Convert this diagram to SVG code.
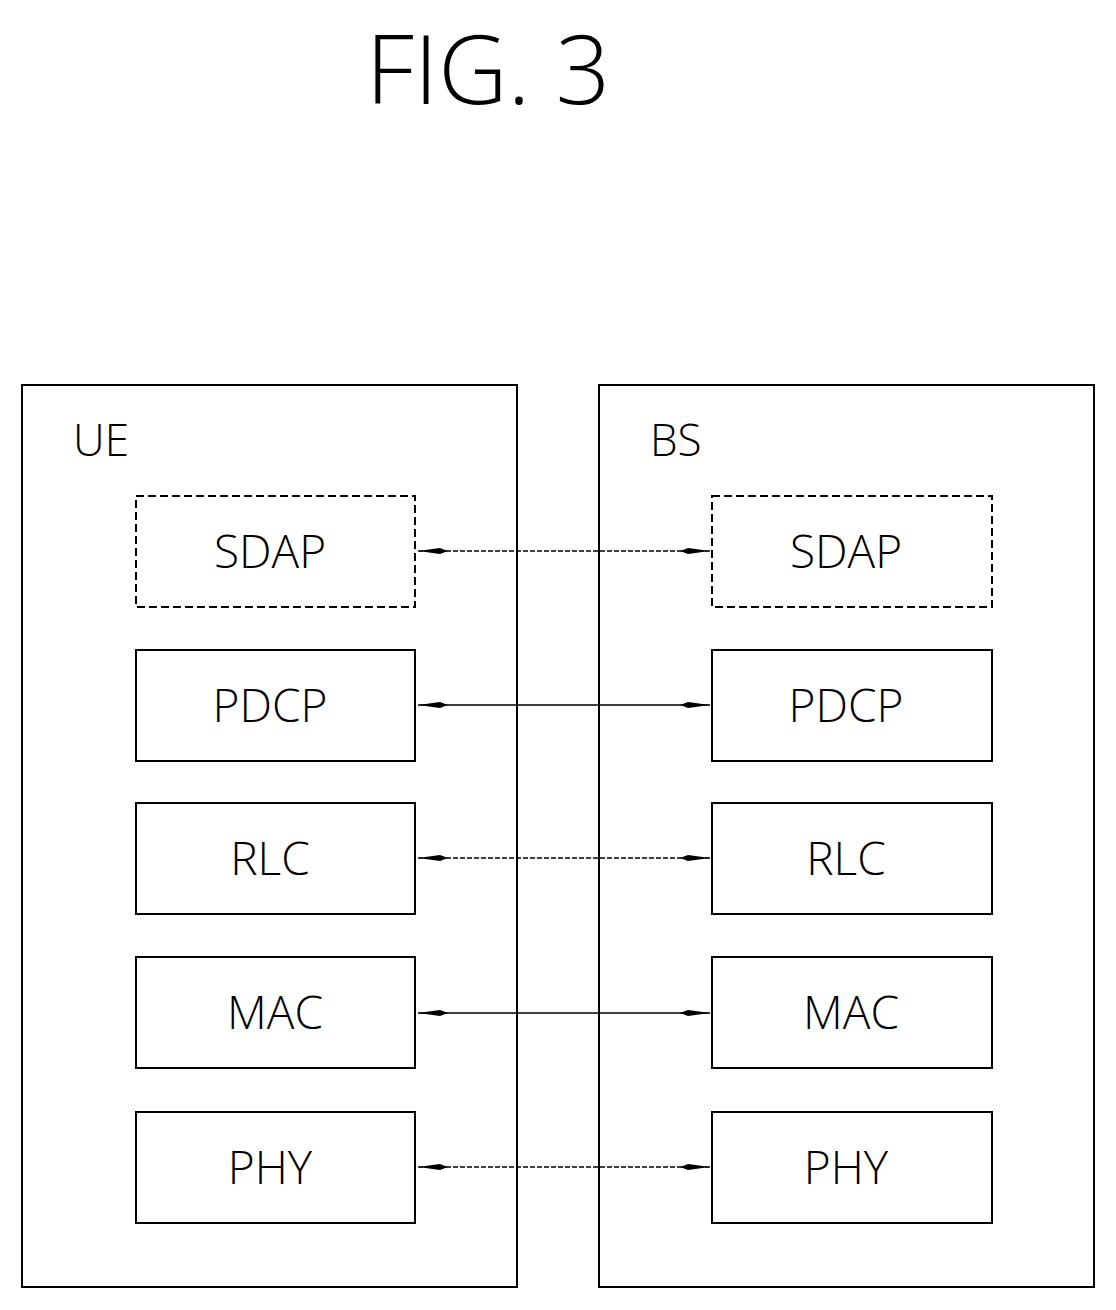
<svg xmlns="http://www.w3.org/2000/svg" width="1116" height="1310" viewBox="0 0 1116 1310">
<style>
.c{fill:none;stroke:#000;stroke-width:2}
.b{fill:#fff;stroke:#000;stroke-width:2}
.d{stroke-dasharray:8,4}
text{font-family:"Open Sans","DejaVu Sans",sans-serif;font-weight:300;fill:#000}
.l{font-size:46px;text-anchor:middle}
.cn{stroke:#000;stroke-width:1.5;fill:none;marker-start:url(#a);marker-end:url(#a)}
</style>
<defs><marker id="a" viewBox="0 0 30 10" refX="30" refY="5" markerWidth="30" markerHeight="10" orient="auto-start-reverse" markerUnits="userSpaceOnUse"><path d="M0,5 L8,2 L30,5 L8,8 z" fill="#000"/></marker></defs>
<text x="488" y="104" font-size="96" text-anchor="middle">FIG. 3</text>
<g id="ue"><rect class="c" x="22" y="385" width="495" height="902"/><text x="73" y="456" font-size="44">UE</text></g>
<g id="bs"><rect class="c" x="599" y="385" width="495" height="902"/><text x="650" y="456" font-size="44">BS</text></g>
<g id="connectors">
<line class="cn" x1="418" y1="551" x2="710" y2="551" stroke-dasharray="5,2"/>
<line class="cn" x1="418" y1="705" x2="710" y2="705"/>
<line class="cn" x1="418" y1="858" x2="710" y2="858" stroke-dasharray="5,2"/>
<line class="cn" x1="418" y1="1013" x2="710" y2="1013"/>
<line class="cn" x1="418" y1="1167" x2="710" y2="1167" stroke-dasharray="5,2"/>
</g>
<g id="ue-sdap"><rect class="b d" x="136" y="496" width="279" height="111"/><text class="l" x="270" y="568">SDAP</text></g>
<g id="ue-pdcp"><rect class="b" x="136" y="650" width="279" height="111"/><text class="l" x="270" y="722">PDCP</text></g>
<g id="ue-rlc"><rect class="b" x="136" y="803" width="279" height="111"/><text class="l" x="270" y="875">RLC</text></g>
<g id="ue-mac"><rect class="b" x="136" y="957" width="279" height="111"/><text class="l" x="275" y="1029">MAC</text></g>
<g id="ue-phy"><rect class="b" x="136" y="1112" width="279" height="111"/><text class="l" x="270" y="1184">PHY</text></g>
<g id="bs-sdap"><rect class="b d" x="712" y="496" width="280" height="111"/><text class="l" x="846" y="568">SDAP</text></g>
<g id="bs-pdcp"><rect class="b" x="712" y="650" width="280" height="111"/><text class="l" x="846" y="722">PDCP</text></g>
<g id="bs-rlc"><rect class="b" x="712" y="803" width="280" height="111"/><text class="l" x="846" y="875">RLC</text></g>
<g id="bs-mac"><rect class="b" x="712" y="957" width="280" height="111"/><text class="l" x="851" y="1029">MAC</text></g>
<g id="bs-phy"><rect class="b" x="712" y="1112" width="280" height="111"/><text class="l" x="846" y="1184">PHY</text></g>
</svg>
